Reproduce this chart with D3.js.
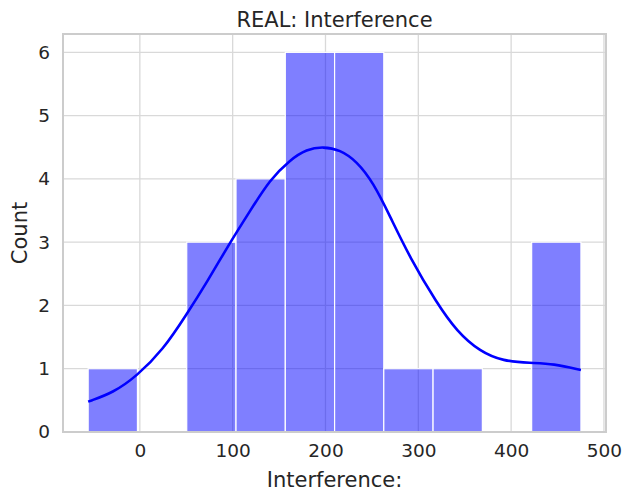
<!DOCTYPE html>
<html>
<head>
<meta charset="utf-8">
<script src="https://cdn.jsdelivr.net/npm/d3@7"></script>
<style>
  body { margin: 0; background: #fff; }
  text { font-family: "DejaVu Sans", sans-serif; fill: #262626; }
</style>
</head>
<body>
<div id="chart"></div>
<script>
// histogram bins (edges) and counts
const binEdges = [-55.7, -2.6, 50.5, 103.6, 156.7, 209.8, 262.8, 315.9, 369.0, 422.1, 475.2];
const counts = [1, 0, 3, 4, 6, 6, 1, 1, 0, 3];

// kde curve
const kdeX = [-55.7, -28.8, -3.6, 25.1, 50.4, 71.9, 97.0, 118.6, 140.2, 161.7, 179.7, 197.6,
  215.6, 233.6, 251.5, 269.5, 291.1, 319.9, 341.5, 366.6, 391.4, 420.5, 445.6, 475.2];
const kdeY = [0.48, 0.62, 0.88, 1.30, 1.86, 2.36, 2.99, 3.49, 3.99, 4.30, 4.47, 4.51,
  4.46, 4.28, 3.94, 3.41, 2.75, 2.04, 1.59, 1.27, 1.12, 1.09, 1.08, 0.98];

const xTicks = [0, 100, 200, 300, 400, 500];
const yTicks = [0, 1, 2, 3, 4, 5, 6];

const W = 623, H = 493;
const margin = {top: 34, right: 17, bottom: 61, left: 63};
const width = W - margin.left - margin.right,
      height = H - margin.top - margin.bottom;

const svg = d3.select("#chart").append("svg")
  .attr("width", W).attr("height", H);

const g = svg.append("g")
  .attr("transform", `translate(${margin.left}, ${margin.top})`);

const x = d3.scaleLinear().domain([-82.8, 502.2]).range([0, width]);
const y = d3.scaleLinear().domain([0, 6.29]).range([height, 0]);

// grid
g.append("g").selectAll("line").data(xTicks).join("line")
  .attr("x1", d => x(d)).attr("x2", d => x(d))
  .attr("y1", 0).attr("y2", height)
  .attr("stroke", "#d9d9d9").attr("stroke-width", 1.3);
g.append("g").selectAll("line").data(yTicks).join("line")
  .attr("y1", d => y(d)).attr("y2", d => y(d))
  .attr("x1", 0).attr("x2", width)
  .attr("stroke", "#d9d9d9").attr("stroke-width", 1.3);

// bars
const bins = counts.map((c, i) => ({x0: binEdges[i], x1: binEdges[i + 1], n: c}));
g.append("g").selectAll("rect").data(bins.filter(b => b.n > 0)).join("rect")
  .attr("x", d => x(d.x0))
  .attr("width", d => x(d.x1) - x(d.x0))
  .attr("y", d => y(d.n))
  .attr("height", d => y(0) - y(d.n))
  .attr("fill", "blue").attr("fill-opacity", 0.5)
  .attr("stroke", "#fff").attr("stroke-width", 1.2);

// kde line
const line = d3.line().x(d => x(d[0])).y(d => y(d[1])).curve(d3.curveBasis);
g.append("path")
  .datum(kdeX.map((v, i) => [v, kdeY[i]]))
  .attr("d", line)
  .attr("fill", "none").attr("stroke", "blue").attr("stroke-width", 2.6);

// frame
g.append("rect").attr("width", width).attr("height", height)
  .attr("fill", "none").attr("stroke", "#cccccc").attr("stroke-width", 2);

// axes
const xAxis = g.append("g").attr("transform", `translate(0, ${height})`)
  .call(d3.axisBottom(x).tickValues(xTicks).tickSize(0).tickPadding(12));
const yAxis = g.append("g")
  .call(d3.axisLeft(y).tickValues(yTicks).tickFormat(d3.format("d")).tickSize(0).tickPadding(13));
[xAxis, yAxis].forEach(a => {
  a.select(".domain").remove();
  a.selectAll("text").style("font-size", "18.5px").attr("fill", "#262626");
});

// labels
svg.append("text").attr("x", margin.left + width / 2).attr("y", 27)
  .attr("text-anchor", "middle").style("font-size", "21px")
  .text("REAL: Interference");
svg.append("text").attr("x", margin.left + width / 2).attr("y", 487)
  .attr("text-anchor", "middle").style("font-size", "21px")
  .text("Interference:");
svg.append("text")
  .attr("transform", `translate(27, ${margin.top + height / 2}) rotate(-90)`)
  .attr("text-anchor", "middle").style("font-size", "21px")
  .text("Count");
</script>
</body>
</html>
